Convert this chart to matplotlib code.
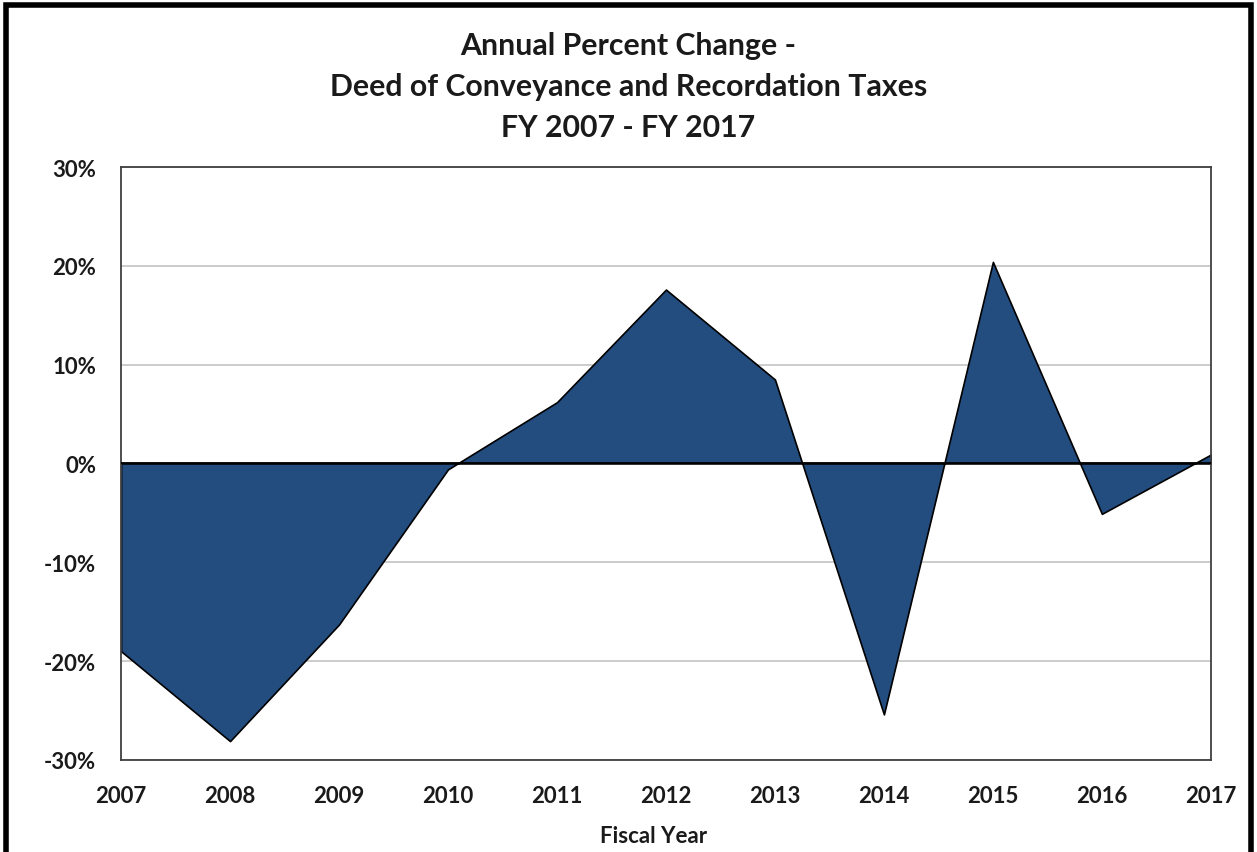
import matplotlib.pyplot as plt
from matplotlib.patches import Rectangle

# annual percent change
years = [2007, 2008, 2009, 2010, 2011, 2012, 2013, 2014, 2015, 2016, 2017]
pct_change = [-19.0, -28.1, -16.3, -0.6, 6.2, 17.6, 8.5, -25.4, 20.4, -5.1, 0.9]
y_ticks = [-30, -20, -10, 0, 10, 20, 30]

title = "Annual Percent Change -\nDeed of Conveyance and Recordation Taxes\nFY 2007 - FY 2017"

plt.rcParams['font.family'] = ['Lato', 'DejaVu Sans']

fig = plt.figure(figsize=(12.57, 8.53), dpi=100)
ax = fig.add_axes([0.0963, 0.108, 0.867, 0.695])

ax.fill_between(years, pct_change, 0, color='#234C7F', edgecolor='black',
                linewidth=1.2, zorder=2)
ax.axhline(0, color='black', linewidth=1.3, zorder=3)

ax.set_xlim(2007, 2017)
ax.set_ylim(-30, 30)
ax.set_yticks(y_ticks)
ax.set_yticklabels([f"{t}%" for t in y_ticks])
ax.set_xticks(years)
ax.set_xticklabels([str(y) for y in years])
ax.tick_params(length=0, labelsize=16)
ax.tick_params(axis='x', pad=18)
ax.tick_params(axis='y', pad=18)
for lbl in ax.get_xticklabels() + ax.get_yticklabels():
    lbl.set_fontweight('bold')
    lbl.set_color('#1a1a1a')

ax.grid(axis='y', color='#c8c8c8', linewidth=1.3, zorder=0)
ax.set_axisbelow(True)
for s in ax.spines.values():
    s.set_color('#404040')
    s.set_linewidth(1.3)

ax.set_xlabel('Fiscal Year', fontsize=16, fontweight='bold', color='#1a1a1a')
ax.xaxis.set_label_coords(0.489, -0.128)
ax.xaxis.label.set_verticalalignment('center')

fig.text(0.5, 0.962, title, ha='center', va='top', fontsize=21.8,
         fontweight='bold', linespacing=1.55, color='#1a1a1a')

# black frame around the whole picture (bottom edge cut off)
fig.patches.append(Rectangle((0.005, -0.05), 0.99, 1.043, transform=fig.transFigure,
                             fill=False, edgecolor='black', linewidth=4))

fig.savefig('out.png', dpi=100)
